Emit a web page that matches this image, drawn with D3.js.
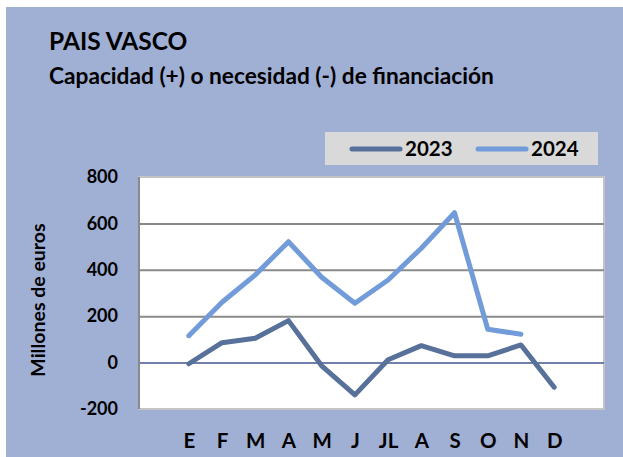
<!DOCTYPE html>
<html>
<head>
<meta charset="utf-8">
<script src="https://cdn.jsdelivr.net/npm/d3@7"></script>
<style>
  html, body { margin: 0; padding: 0; background: #ffffff; }
  svg { display: block; font-family: Lato, "Open Sans", "Liberation Sans", sans-serif; font-weight: bold; }
</style>
</head>
<body>
<svg id="chart" width="623" height="457"></svg>
<script>
// Monthly financing capacity (+) or need (-), millions of euros
const months = ["E", "F", "M", "A", "M", "J", "JL", "A", "S", "O", "N", "D"];
const values2023 = [-5, 86, 105, 181, -14, -139, 12, 73, 29, 29, 76, -106];
const values2024 = [116, 260, 378, 521, 368, 256, 356, 493, 646, 144, 122, null];
const yTicks = [-200, 0, 200, 400, 600, 800];
const seriesNames = ["2023", "2024"];
const seriesColors = ["#57719a", "#729bd9"];

const svg = d3.select("#chart");
const W = 623, H = 457;

// chart background
svg.append("rect").attr("x", 6).attr("y", 7).attr("width", W - 6).attr("height", H - 7)
  .attr("fill", "#a0afd4");

// titles
svg.append("text").attr("x", 49).attr("y", 50).attr("font-size", 24.5).attr("fill", "#000")
  .text("PAIS VASCO");
svg.append("text").attr("x", 49).attr("y", 84).attr("font-size", 22.7).attr("fill", "#000")
  .text("Capacidad (+) o necesidad (-) de financiación");

// plot area
const plot = { left: 139, right: 604, top: 177, bottom: 409 };
const x = d3.scalePoint().domain(d3.range(months.length)).range([plot.left, plot.right]).padding(1.5);
const y = d3.scaleLinear().domain([-200, 800]).range([plot.bottom, plot.top]);

svg.append("rect").attr("x", plot.left).attr("y", plot.top)
  .attr("width", plot.right - plot.left).attr("height", plot.bottom - plot.top)
  .attr("fill", "#ffffff").attr("stroke", "#c4c4c4").attr("stroke-width", 2);

// gridlines and value labels (plain hyphen for negatives)
const yAxis = d3.axisLeft(y).tickValues(yTicks).tickFormat(d => String(d))
  .tickSize(-(plot.right - plot.left)).tickPadding(21);
const gy = svg.append("g").attr("transform", `translate(${plot.left},0)`).call(yAxis);
gy.select(".domain").remove();
gy.selectAll(".tick line")
  .attr("stroke", d => d === 0 ? "#44548f" : "#8a8a8a")
  .attr("stroke-width", d => d === 0 ? 1.5 : 2)
  .attr("display", d => (d === 800 || d === -200) ? "none" : null);
gy.selectAll(".tick text").attr("font-size", 18).attr("fill", "#000")
  .attr("font-family", "Lato, sans-serif").attr("font-weight", "bold");

// left axis line
svg.append("line").attr("x1", plot.left).attr("x2", plot.left)
  .attr("y1", plot.top).attr("y2", plot.bottom).attr("stroke", "#8a8a8a").attr("stroke-width", 2);

// month labels
const xAxis = d3.axisBottom(x).tickFormat(i => months[i]).tickSize(0).tickPadding(24);
const gx = svg.append("g").attr("transform", `translate(0,${plot.bottom})`).call(xAxis);
gx.select(".domain").remove();
gx.selectAll(".tick text").attr("font-size", 20.5).attr("fill", "#000")
  .attr("font-family", "Lato, sans-serif").attr("font-weight", "bold");

// y axis title
svg.append("text").attr("transform", "translate(45,300) rotate(-90)")
  .attr("text-anchor", "middle").attr("font-size", 19.5).attr("fill", "#000")
  .text("Millones de euros");

// series lines
const line = d3.line().defined(d => d != null).x((d, i) => x(i)).y(d => y(d));
[values2023, values2024].forEach((vals, k) => {
  svg.append("path").datum(vals).attr("d", line)
    .attr("fill", "none").attr("stroke", seriesColors[k]).attr("stroke-width", 5)
    .attr("stroke-linejoin", "round").attr("stroke-linecap", "round");
});

// legend
const lg = svg.append("g");
lg.append("rect").attr("x", 325).attr("y", 132).attr("width", 273).attr("height", 33).attr("fill", "#d9d9d9");
const legendX = [352, 478];
seriesNames.forEach((name, k) => {
  lg.append("line").attr("x1", legendX[k]).attr("x2", legendX[k] + 48)
    .attr("y1", 149).attr("y2", 149).attr("stroke", seriesColors[k]).attr("stroke-width", 5)
    .attr("stroke-linecap", "round");
  lg.append("text").attr("x", legendX[k] + 53).attr("y", 156).attr("font-size", 20.5).attr("fill", "#000")
    .text(name);
});
</script>
</body>
</html>
